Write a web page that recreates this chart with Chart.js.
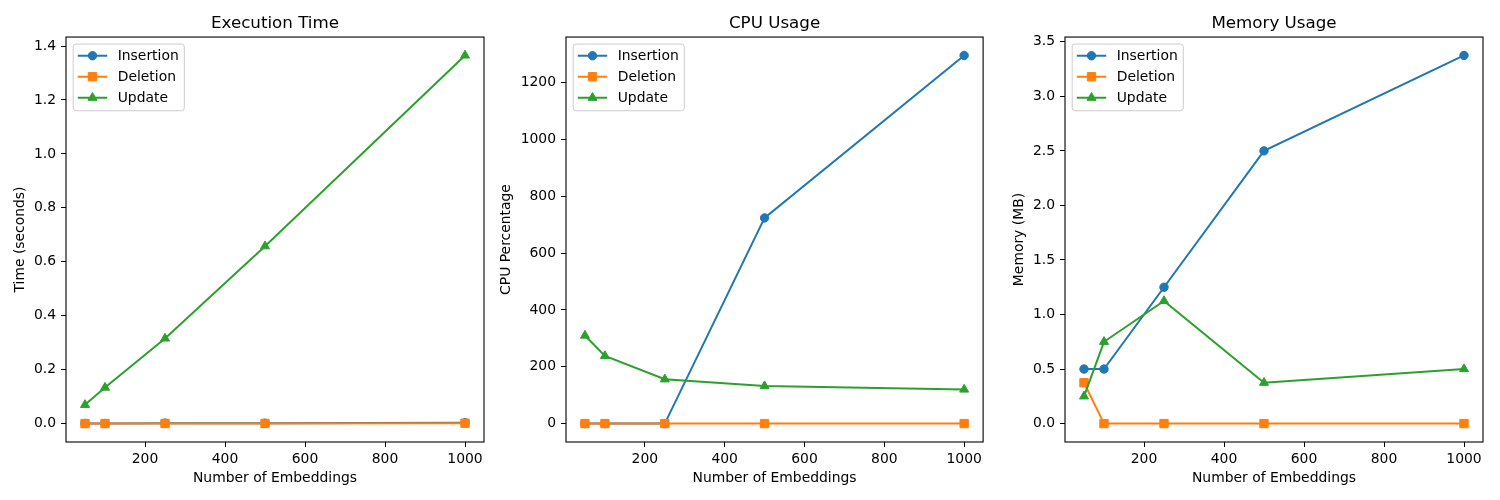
<!DOCTYPE html>
<html><head><meta charset="utf-8">
<script src="https://cdn.jsdelivr.net/npm/chart.js@4.4.0/dist/chart.umd.min.js"></script>
<style>
html,body{margin:0;padding:0;background:#fff;width:1500px;height:500px;overflow:hidden;position:relative}
.panel{position:absolute;top:0;height:500px}
</style></head><body>
<div class="panel" style="left:0px;width:500px"><canvas id="c1"></canvas></div>
<div class="panel" style="left:490px;width:500px"><canvas id="c2"></canvas></div>
<div class="panel" style="left:990px;width:510px"><canvas id="c3"></canvas></div>
<script>
// ---- data ----
const embeddings = [50, 100, 250, 500, 1000];
const seriesNames = ['Insertion', 'Deletion', 'Update'];

const timeInsertion = [0.001, 0.001, 0.002, 0.002, 0.004];
const timeDeletion  = [0.0005, 0.0006, 0.001, 0.001, 0.002];
const timeUpdate    = [0.070, 0.134, 0.316, 0.658, 1.365];

const cpuInsertion = [0, 0, 0, 724, 1296];
const cpuDeletion  = [0, 0, 0, 0, 0];
const cpuUpdate    = [310, 238, 156, 132, 120];

const memInsertion = [0.5, 0.5, 1.25, 2.5, 3.375];
const memDeletion  = [0.375, 0, 0, 0, 0];
const memUpdate    = [0.25, 0.75, 1.125, 0.375, 0.5];

const xTicks    = [200, 400, 600, 800, 1000];
const timeTicks = [0, 0.2, 0.4, 0.6, 0.8, 1.0, 1.2, 1.4];
const cpuTicks  = [0, 200, 400, 600, 800, 1000, 1200];
const memTicks  = [0, 0.5, 1.0, 1.5, 2.0, 2.5, 3.0, 3.5];

// ---- styling ----
const FONT = '"DejaVu Sans", sans-serif';
const FS = 13.9;
const colors = ['#1f77b4', '#ff7f0e', '#2ca02c'];
const styles = ['circle', 'rect', 'triangle'];
const radii = [4.2, 5.9, 5.2];
Chart.defaults.font.family = FONT;
Chart.defaults.color = '#000';

function drawMarker(ctx, style, x, y, color) {
  ctx.fillStyle = color; ctx.strokeStyle = color; ctx.lineWidth = 1;
  ctx.beginPath();
  if (style === 'circle') {
    ctx.arc(x, y, 4.2, 0, Math.PI * 2);
  } else if (style === 'rect') {
    const h = 5.9 * Math.SQRT1_2;
    ctx.rect(x - h, y - h, 2 * h, 2 * h);
  } else {
    const r = 5.2;
    ctx.moveTo(x, y - r);
    ctx.lineTo(x + r * Math.sin(2 * Math.PI / 3), y - r * Math.cos(2 * Math.PI / 3));
    ctx.lineTo(x + r * Math.sin(4 * Math.PI / 3), y - r * Math.cos(4 * Math.PI / 3));
    ctx.closePath();
  }
  ctx.fill(); ctx.stroke();
}

const frameLegendPlugin = {
  id: 'frameLegend',
  afterDraw(chart) {
    const {ctx, chartArea: a} = chart;
    ctx.save();
    // frame (all four spines)
    ctx.strokeStyle = '#000'; ctx.lineWidth = 1.1;
    ctx.strokeRect(a.left, a.top, a.right - a.left, a.bottom - a.top);
    // legend (upper left, inside axes)
    ctx.font = FS + 'px ' + FONT;
    const ds = chart.data.datasets;
    let maxW = 0;
    ds.forEach(d => { maxW = Math.max(maxW, ctx.measureText(d.label).width); });
    const bx = a.left + 7.2, by = a.top + 7;
    const bw = 44.5 + maxW + 5.6, bh = 66.7, r = 2.8;
    ctx.beginPath();
    ctx.moveTo(bx + r, by);
    ctx.lineTo(bx + bw - r, by); ctx.arcTo(bx + bw, by, bx + bw, by + r, r);
    ctx.lineTo(bx + bw, by + bh - r); ctx.arcTo(bx + bw, by + bh, bx + bw - r, by + bh, r);
    ctx.lineTo(bx + r, by + bh); ctx.arcTo(bx, by + bh, bx, by + bh - r, r);
    ctx.lineTo(bx, by + r); ctx.arcTo(bx, by, bx + r, by, r);
    ctx.closePath();
    ctx.fillStyle = 'rgba(255,255,255,0.8)'; ctx.fill();
    ctx.strokeStyle = '#cccccc'; ctx.lineWidth = 1; ctx.stroke();
    ds.forEach((d, i) => {
      const cy = by + 11.7 + i * 21;
      ctx.strokeStyle = d.borderColor; ctx.lineWidth = 2;
      ctx.beginPath(); ctx.moveTo(bx + 4.6, cy); ctx.lineTo(bx + 34, cy); ctx.stroke();
      drawMarker(ctx, d.pointStyle, bx + 19.3, cy, d.borderColor);
      ctx.fillStyle = '#000'; ctx.textBaseline = 'middle'; ctx.textAlign = 'left';
      ctx.font = FS + 'px ' + FONT;
      ctx.fillText(d.label, bx + 44.5, cy + 0.5);
    });
    ctx.restore();
  }
};

const xMargin = (embeddings[embeddings.length - 1] - embeddings[0]) * 0.05;
const xMin = embeddings[0] - xMargin, xMax = embeddings[embeddings.length - 1] + xMargin;

function makeChart(id, p) {
  const series = [p.ins, p.del, p.upd];
  const datasets = series.map((vals, i) => ({
    label: seriesNames[i],
    data: embeddings.map((x, j) => ({x: x, y: vals[j]})),
    borderColor: colors[i], backgroundColor: colors[i],
    pointBackgroundColor: colors[i], pointBorderColor: colors[i],
    pointStyle: styles[i], pointRadius: radii[i], pointBorderWidth: 1,
    borderWidth: 2, tension: 0, fill: false, order: 2 - i
  }));
  const all = series.flat();
  const lo = Math.min(...all), hi = Math.max(...all);
  const m = (hi - lo) * 0.05;
  new Chart(document.getElementById(id), {
    type: 'line',
    data: {datasets},
    options: {
      responsive: true, maintainAspectRatio: false, animation: false, events: [],
      layout: {padding: {left: 0, right: p.padRight, top: 0, bottom: 0}},
      plugins: {
        legend: {display: false}, tooltip: {enabled: false},
        title: {display: true, text: p.title, fullSize: false, color: '#000',
          font: {size: 16.7, weight: 'normal', family: FONT}, padding: {top: 14, bottom: 3}}
      },
      scales: {
        x: {
          type: 'linear', min: xMin, max: xMax,
          afterBuildTicks: s => { s.ticks = xTicks.map(v => ({value: v})); },
          afterFit: s => { s.height = 58; },
          ticks: {autoSkip: false, maxRotation: 0, color: '#000', font: {size: FS}, padding: 4,
            callback: v => String(v)},
          grid: {drawOnChartArea: false, drawTicks: true, tickLength: 5, color: '#000', tickWidth: 1},
          border: {display: false},
          title: {display: true, text: 'Number of Embeddings', color: '#000', font: {size: FS},
            padding: {top: 0, bottom: 13.4}}
        },
        y: {
          type: 'linear', min: lo - m, max: hi + m,
          afterBuildTicks: s => { s.ticks = p.yTicks.map(v => ({value: v})); },
          afterFit: s => { s.width = p.yWidth; },
          ticks: {autoSkip: false, color: '#000', font: {size: FS}, padding: 5,
            callback: v => v.toFixed(p.dec)},
          grid: {drawOnChartArea: false, drawTicks: true, tickLength: 5, color: '#000', tickWidth: 1},
          border: {display: false},
          title: {display: true, text: p.yTitle, color: '#000', font: {size: FS},
            padding: {top: p.yTitlePad, bottom: 0}}
        }
      }
    },
    plugins: [frameLegendPlugin]
  });
}

makeChart('c1', {title: 'Execution Time', yTitle: 'Time (seconds)', ins: timeInsertion, del: timeDeletion,
  upd: timeUpdate, yTicks: timeTicks, dec: 1, yWidth: 66, padRight: 16, yTitlePad: 12});
makeChart('c2', {title: 'CPU Usage', yTitle: 'CPU Percentage', ins: cpuInsertion, del: cpuDeletion,
  upd: cpuUpdate, yTicks: cpuTicks, dec: 0, yWidth: 76, padRight: 6, yTitlePad: 8.5});
makeChart('c3', {title: 'Memory Usage', yTitle: 'Memory (MB)', ins: memInsertion, del: memDeletion,
  upd: memUpdate, yTicks: memTicks, dec: 1, yWidth: 75, padRight: 17, yTitlePad: 21.3});
</script>
</body></html>
